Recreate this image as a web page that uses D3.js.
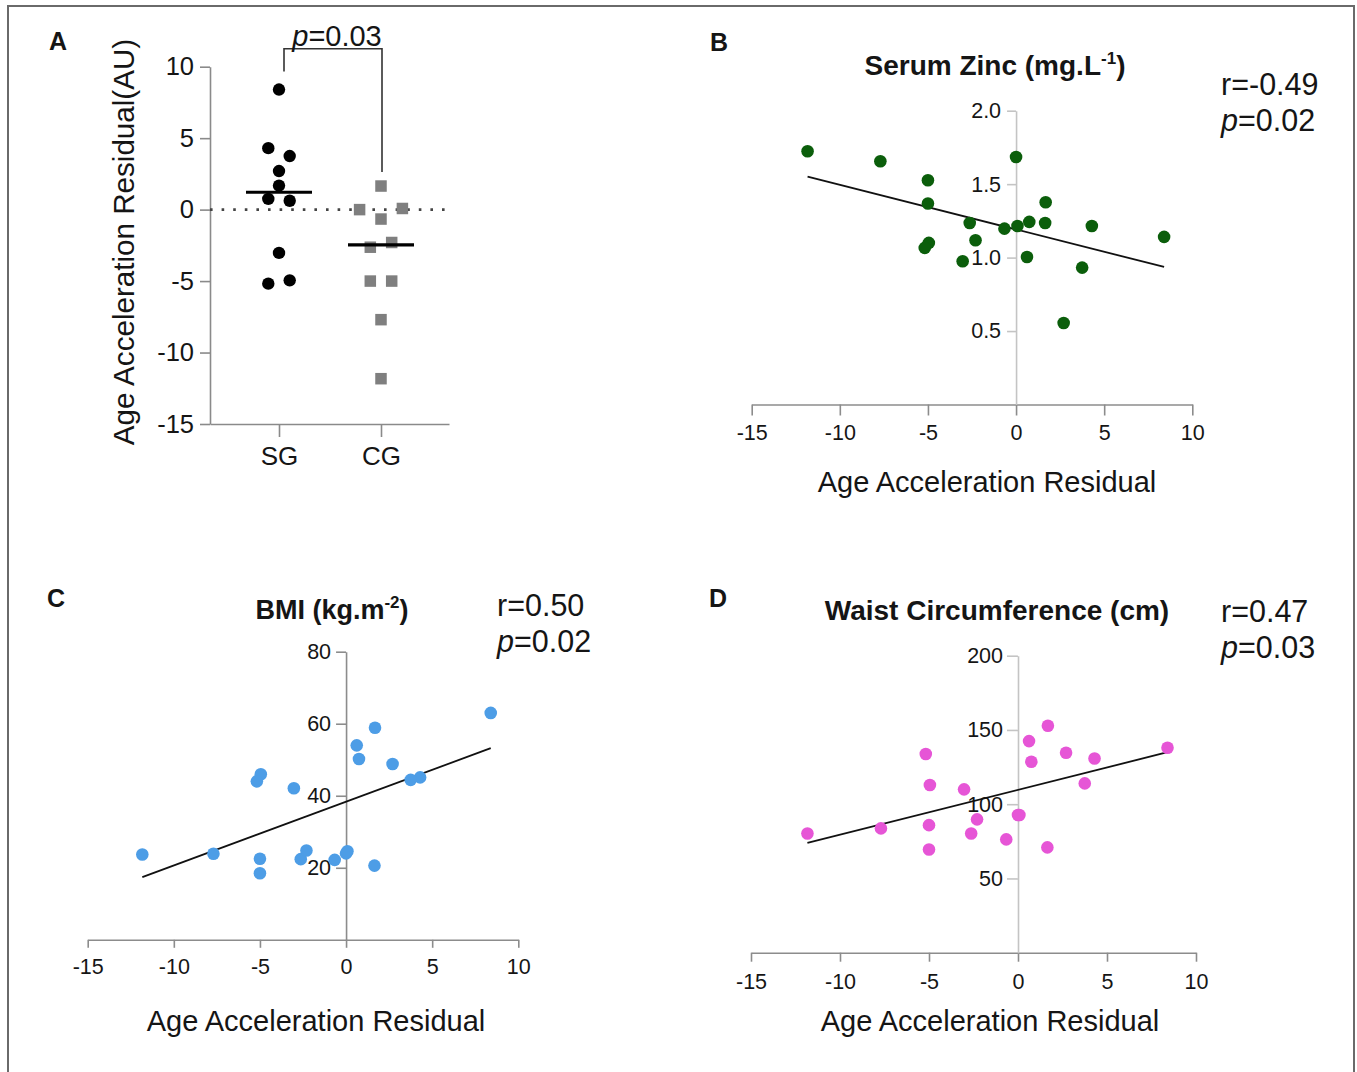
<!DOCTYPE html>
<html><head><meta charset="utf-8">
<script src="https://cdn.jsdelivr.net/npm/d3@7"></script>
<style>
html,body{margin:0;padding:0;background:#fff;}
svg{display:block;font-family:"Liberation Sans",Arial,Helvetica,sans-serif;}
</style></head><body>
<svg id="chart" width="1357" height="1072"></svg>
<script>
// ---------------- DATA ----------------
const groups = ["SG", "CG"];
// Age acceleration residual per participant (SG then CG)
const sgResidual = [8.4, 4.3, 3.75, 2.7, 1.68, 0.75, 0.62, -3.03, -4.95, -5.18];
const cgResidual = [1.65, 0.0, 0.08, -0.66, -2.63, -2.3, -5.0, -5.0, -7.7, -11.83];
// jitter slot of each point in panel A (column order)
const sgSlot = [0, -1, 1, 0, 0, -1, 1, 0, 1, -1];
const cgSlot = [0, -2, 2, 0, -1, 1, -1, 1, 0, 0];
// Panel B: serum zinc (mg/L)
const zincSG = [1.141, 1.215, 0.932, 0.555, 1.377, 1.243, 1.004, 0.975, 1.10, 1.066];
const zincCG = [1.236, 1.685, 1.215, 1.197, 1.236, 1.118, 1.527, 1.368, 1.656, 1.724];
// Panel C: BMI (kg/m2)
const bmiSG = [63.0, 45.1, 44.4, 48.8, 58.9, 50.2, 54.0, 42.1, 45.95, 44.0];
const bmiCG = [20.6, 24.0, 24.6, 22.2, 22.4, 24.8, 22.5, 18.5, 23.9, 23.7];
// Panel D: waist circumference (cm)
const waistSG = [138.0, 130.8, 114.0, 134.6, 152.8, 128.6, 142.5, 110.0, 112.9, 133.8];
const waistCG = [70.9, 92.7, 92.7, 76.3, 80.3, 89.8, 85.9, 69.5, 83.7, 80.3];

const aTicks = [-15, -10, -5, 0, 5, 10];
const xTicks = [-15, -10, -5, 0, 5, 10];
const zincTicks = [0.5, 1.0, 1.5, 2.0];
const bmiTicks = [20, 40, 60, 80];
const waistTicks = [50, 100, 150, 200];

const panelLetters = ["A", "B", "C", "D"];
const titleMain = ["Serum Zinc (mg.L", "BMI (kg.m", "Waist Circumference (cm)"];
const titleSup = ["-1", "-2", ""];
const rText = ["r=-0.49", "r=0.50", "r=0.47"];
const pText = ["0.02", "0.02", "0.03"];
const groupP = "0.03";
const yTitleA = "Age Acceleration Residual(AU)";
const xTitle = "Age Acceleration Residual";

// ---------------- DRAW ----------------
const svg = d3.select("#chart");
const TXT = "#151515";

svg.append("rect").attr("x", 8).attr("y", 6).attr("width", 1346).attr("height", 1090)
  .attr("fill", "none").attr("stroke", "#6a6a6a").attr("stroke-width", 2);

function styleAxis(g, color, fs) {
  g.select(".domain").attr("stroke", color).attr("stroke-width", 1.6);
  g.selectAll(".tick line").attr("stroke", color).attr("stroke-width", 1.6);
  g.selectAll(".tick text").attr("fill", TXT).attr("font-size", fs)
    .attr("font-family", '"Liberation Sans",Arial,sans-serif');
}

// ---------- Panel A ----------
(function () {
  const y = d3.scaleLinear().domain([-15, 10]).range([424, 66.7]);
  const x = d3.scalePoint().domain(groups).range([279, 381]);
  const slotW = 10.7;
  const axisX0 = 210, axisX1 = 449;
  const g = svg.append("g");

  const ya = g.append("g").attr("transform", `translate(${axisX0},0)`)
    .call(d3.axisLeft(y).tickValues(aTicks).tickSize(10).tickSizeOuter(0).tickPadding(6).tickFormat(d => String(d)));
  styleAxis(ya, "#8a8a8a", 25.5);
  const xs = d3.scaleLinear().domain([axisX0, axisX1]).range([axisX0, axisX1]);
  const xa = g.append("g").attr("transform", `translate(0,${y(-15)})`)
    .call(d3.axisBottom(xs).tickValues(groups.map(d => x(d))).tickSize(13).tickSizeOuter(0).tickPadding(10)
      .tickFormat((d, i) => groups[i]));
  styleAxis(xa, "#8a8a8a", 26);

  g.append("line").attr("x1", axisX0).attr("x2", axisX1).attr("y1", y(0)).attr("y2", y(0))
    .attr("stroke", "#444").attr("stroke-width", 2.6).attr("stroke-dasharray", "2.6,9")
    .attr("stroke-linecap", "butt");

  const sg = sgResidual.map((v, i) => ({ v, s: sgSlot[i] }));
  const cg = cgResidual.map((v, i) => ({ v, s: cgSlot[i] }));

  g.selectAll("circle.sg").data(sg).join("circle")
    .attr("cx", d => x("SG") + d.s * slotW).attr("cy", d => y(d.v)).attr("r", 6.2).attr("fill", "#000");
  const sq = 11.5;
  g.selectAll("rect.cg").data(cg).join("rect")
    .attr("x", d => x("CG") + d.s * slotW - sq / 2).attr("y", d => y(d.v) - sq / 2)
    .attr("width", sq).attr("height", sq).attr("fill", "#7f7f7f");

  [["SG", sgResidual], ["CG", cgResidual]].forEach(([k, arr]) => {
    const m = d3.median(arr);
    g.append("line").attr("x1", x(k) - 33).attr("x2", x(k) + 33).attr("y1", y(m)).attr("y2", y(m))
      .attr("stroke", "#000").attr("stroke-width", 3.2);
  });

  const topY = y(10) - 18;
  const lx = x("SG") + 5, rx = x("CG") + 1;
  g.append("path")
    .attr("d", `M${lx},${y(d3.max(sgResidual)) - 18}V${topY}H${rx}V${y(d3.max(cgResidual)) - 14}`)
    .attr("fill", "none").attr("stroke", "#333").attr("stroke-width", 1.6);
  const pt = g.append("text").attr("x", (lx + rx) / 2 + 4).attr("y", 46).attr("text-anchor", "middle")
    .attr("font-size", 29).attr("fill", TXT);
  pt.append("tspan").attr("font-style", "italic").text("p");
  pt.append("tspan").text("=" + groupP);

  g.append("text").attr("transform", "translate(134,242) rotate(-90)").attr("text-anchor", "middle")
    .attr("font-size", 29.6).attr("fill", TXT).text(yTitleA);
})();

// ---------- Scatter panels ----------
function regression(xs, ys) {
  const mx = d3.mean(xs), my = d3.mean(ys);
  let sxy = 0, sxx = 0;
  xs.forEach((xv, i) => { sxy += (xv - mx) * (ys[i] - my); sxx += (xv - mx) ** 2; });
  const b = sxy / sxx;
  return { b, a: my - b * mx };
}

function scatterPanel(cfg) {
  const xs = sgResidual.concat(cgResidual);
  const ys = cfg.sg.concat(cfg.cg);
  const x = d3.scaleLinear().domain([-15, 10]).range([cfg.x0, cfg.x1]);
  const y = d3.scaleLinear().domain([0, cfg.ymax]).range([cfg.y0, cfg.y1]);
  const g = svg.append("g");

  const xa = g.append("g").attr("transform", `translate(0,${y(0)})`)
    .call(d3.axisBottom(x).tickValues(xTicks).tickSize(cfg.xTick).tickSizeOuter(0)
      .tickPadding(cfg.xPad).tickFormat(d => String(d)));
  styleAxis(xa, "#8c8c8c", 21.5);

  const ya = g.append("g").attr("transform", `translate(${x(0)},0)`)
    .call(d3.axisLeft(y).tickValues(cfg.ticks).tickSize(cfg.yTick).tickSizeOuter(0)
      .tickPadding(cfg.yPad).tickFormat(cfg.fmt));
  styleAxis(ya, cfg.yColor, 21.5);

  const r = regression(xs, ys);
  const xmin = d3.min(xs), xmax = d3.max(xs);
  g.append("line").attr("x1", x(xmin)).attr("x2", x(xmax))
    .attr("y1", y(r.a + r.b * xmin)).attr("y2", y(r.a + r.b * xmax))
    .attr("stroke", "#111").attr("stroke-width", 1.8);

  g.selectAll("circle").data(xs.map((xv, i) => [xv, ys[i]])).join("circle")
    .attr("cx", d => x(d[0])).attr("cy", d => y(d[1])).attr("r", 6.3).attr("fill", cfg.color);

  const t = g.append("text").attr("x", cfg.tx).attr("y", cfg.ty).attr("text-anchor", "middle")
    .attr("font-size", cfg.tfs).attr("font-weight", "bold").attr("fill", TXT);
  t.append("tspan").text(titleMain[cfg.i]);
  if (titleSup[cfg.i]) {
    t.append("tspan").attr("font-size", 17).attr("dy", -11).text(titleSup[cfg.i]);
    t.append("tspan").attr("dy", 11).text(")");
  }
  g.append("text").attr("x", cfg.sx).attr("y", cfg.sy).attr("font-size", 30.5).attr("fill", TXT).text(rText[cfg.i]);
  const p = g.append("text").attr("x", cfg.sx).attr("y", cfg.sy + 36).attr("font-size", 30.5).attr("fill", TXT);
  p.append("tspan").attr("font-style", "italic").text("p");
  p.append("tspan").text("=" + pText[cfg.i]);

  g.append("text").attr("x", cfg.axx).attr("y", cfg.axy).attr("text-anchor", "middle")
    .attr("font-size", 29).attr("fill", TXT).text(xTitle);
}

scatterPanel({ i: 0, sg: zincSG, cg: zincCG, x0: 751.7, x1: 1192.3, ymax: 2, y0: 404.5, y1: 110.7,
  ticks: zincTicks, fmt: d => d.toFixed(1), color: "#0b5e0b", yColor: "#c4c4c4",
  xTick: 11, xPad: 9, yTick: 9, yPad: 6, tfs: 28,
  tx: 995, ty: 75, sx: 1221, sy: 95, axx: 987, axy: 492 });

scatterPanel({ i: 1, sg: bmiSG, cg: bmiCG, x0: 87.7, x1: 518.3, ymax: 80, y0: 939.8, y1: 651.7,
  ticks: bmiTicks, fmt: d => String(d), color: "#4d9de6", yColor: "#8c8c8c",
  xTick: 8, xPad: 11, yTick: 10, yPad: 5, tfs: 27,
  tx: 332, ty: 619, sx: 497, sy: 616, axx: 316, axy: 1031 });

scatterPanel({ i: 2, sg: waistSG, cg: waistCG, x0: 751, x1: 1196, ymax: 200, y0: 952.7, y1: 655.7,
  ticks: waistTicks, fmt: d => String(d), color: "#e655d6", yColor: "#c4c4c4",
  xTick: 9, xPad: 12, yTick: 11, yPad: 4, tfs: 28,
  tx: 997, ty: 620, sx: 1221, sy: 622, axx: 990, axy: 1031 });

const letterPos = [[49, 50], [710, 51], [47, 607], [709, 607]];
panelLetters.forEach((l, i) => {
  svg.append("text").attr("x", letterPos[i][0]).attr("y", letterPos[i][1])
    .attr("font-size", 25).attr("font-weight", "bold").attr("fill", TXT).text(l);
});
</script>
</body></html>
